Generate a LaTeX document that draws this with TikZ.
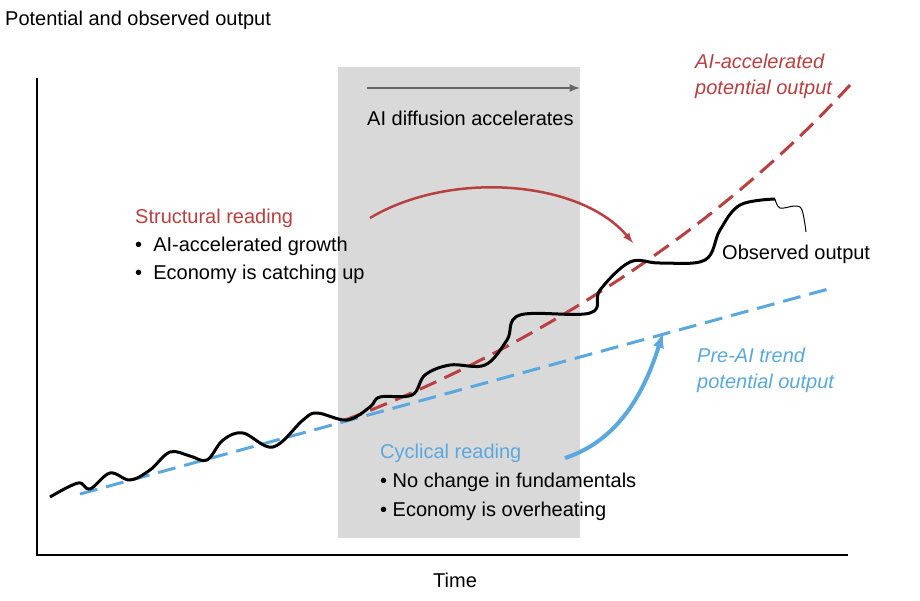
\documentclass[tikz,border=0pt]{standalone}
\usepackage{fontspec}
\setmainfont{Liberation Sans}
\begin{document}
\begin{tikzpicture}[x=1pt,y=-1pt,
  lbl/.style={anchor=west,inner sep=0,font=\fontsize{20}{26}\selectfont,align=left},
  redc/.style={color={rgb,255:red,184;green,64;blue,64}},
  bluec/.style={color={rgb,255:red,90;green,168;blue,222}}]
\useasboundingbox (0,0) rectangle (920,600);
\fill[gray!30] (338,67) rectangle (580,538);
\coordinate (o) at (37,555);
\coordinate (ytop) at (37,78);
\coordinate (xend) at (848,555);
\draw[line width=2.5pt] (ytop) -- (o) -- (xend);
\coordinate (ga) at (367,88); \coordinate (gb) at (580,88);
\draw[gray!80!black,line width=2.5pt,-latex] (ga) -- (gb);
% trend
\coordinate (t0) at (80,494); \coordinate (t1) at (832,288);
\draw[bluec,line width=3pt,dash pattern=on 18pt off 9pt] (t0) -- (t1);
% AI
\coordinate (a0) at (345,420); \coordinate (a1) at (850,85);
\draw[redc,line width=3pt,dash pattern=on 18pt off 9pt] (a0) .. controls (480,370) and (690,260) .. (a1);
% observed
\draw[line width=3pt,line join=round] plot[smooth,tension=0.6] coordinates {
(50,497) (78,483) (90,489) (110,473) (130,480) (150,470) (170,452) (190,456) (207,460) (223,440) (243,433) (273,447) (303,420) (317,413) (347,420) (370,407) (380,397) (412,395) (425,375) (450,365) (485,365) (507,340) (520,315) (590,313) (600,290) (630,262) (660,263) (705,260) (720,230) (740,205) (775,199)};
\draw[line width=1pt] plot[smooth,tension=0.6] coordinates {(775,199) (780,208) (795,206) (802,210) (806,232)};
% arrows
\coordinate (rs) at (370,218); \coordinate (re) at (633,243);
\draw[redc,line width=2.5pt,-latex] (rs) .. controls (450,170) and (580,180) .. (re);
\coordinate (bs) at (565,458); \coordinate (be) at (663,333);
\draw[bluec,line width=4pt,-latex] (bs) .. controls (620,440) and (645,390) .. (be);
% texts
\node[lbl] (title) at (5,20) {Potential and observed output};
\node[lbl] (time) at (433,580) {Time};
\node[lbl] (diff) at (367,118) {AI diffusion accelerates};
\node[lbl,redc,font=\fontsize{20}{26}\selectfont\itshape] (ail) at (695,76) {AI-accelerated\\potential output};
\node[lbl,bluec,font=\fontsize{20}{26}\selectfont\itshape] (pre) at (697,370) {Pre-AI trend\\potential output};
\node[lbl] (obs) at (722,254) {Observed output};
\node[lbl,redc] (sr) at (135,218) {Structural reading};
\node[lbl] (s1) at (135,246) {•\ \ AI-accelerated growth};
\node[lbl] (s2) at (135,274) {•\ \ Economy is catching up};
\node[lbl,bluec] (cr) at (380,453) {Cyclical reading};
\node[lbl] (c1) at (380,482) {•\ No change in fundamentals};
\node[lbl] (c2) at (380,511) {•\ Economy is overheating};
\end{tikzpicture}
\end{document}
